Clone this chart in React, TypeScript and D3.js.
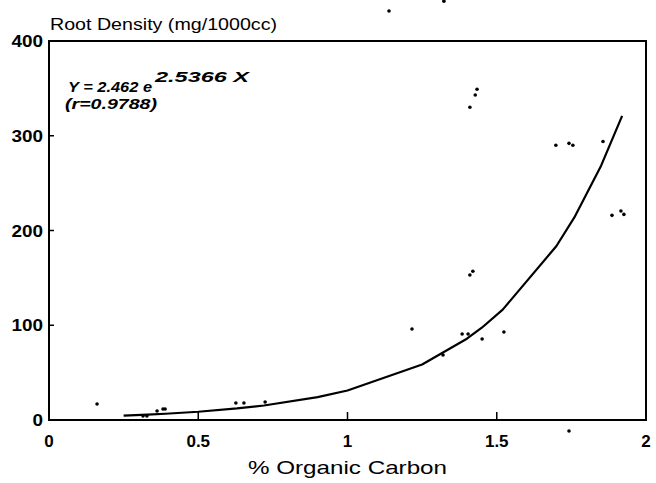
import React from "react";
import * as d3 from "d3";

const pointsX = [0.161, 0.315, 0.328, 0.362, 0.382, 0.389, 0.626, 0.653, 0.724, 1.216, 1.32, 1.384, 1.404, 1.451, 1.524, 1.41, 1.42, 1.41, 1.428, 1.434, 1.698, 1.742, 1.755, 1.856, 1.886, 1.916, 1.926, 1.139, 1.323, 1.742];
const pointsY = [16.9, 4.2, 4.2, 9.5, 11.6, 11.6, 17.9, 17.9, 19, 96, 68.6, 90.8, 90.8, 85.5, 92.9, 153, 157, 330, 343, 349, 290, 292, 290, 294, 216, 220.6, 217, 431.7, 442, -11.6];

const fitX = [0.25, 0.33, 0.39, 0.5, 0.63, 0.72, 0.9, 1.0, 1.25, 1.4, 1.45, 1.52, 1.7, 1.76, 1.85, 1.92];
const fitY = [4.6, 5.7, 6.6, 8.7, 12.2, 15.3, 24.1, 31.1, 58.6, 85.8, 97.4, 116.5, 183.6, 213.8, 268.7, 321];

const xTicks = [0, 0.5, 1, 1.5, 2];
const xTickLabels = ["0", "0.5", "1", "1.5", "2"];
const yTicks = [0, 100, 200, 300, 400];
const yTickLabels = ["0", "100", "200", "300", "400"];

const yTitle = "Root Density (mg/1000cc)";
const xTitle = "% Organic Carbon";
const eqMain = "Y = 2.462 e";
const eqSup = "2.5366 X";
const eqR = "(r=0.9788)";

export default function App() {
  const x = d3.scaleLinear().domain([0, 2]).range([49, 646]);
  const y = d3.scaleLinear().domain([0, 400]).range([420, 41]);
  const line = d3
    .line<number>()
    .x((d, i) => x(fitX[i]))
    .y((d) => y(d));
  const font = "'Liberation Sans', Arial, sans-serif";
  return (
    <svg
      width={656}
      height={483}
      style={{ position: "absolute", left: 0, top: 0, background: "#fff" }}
      fontFamily={font}
    >
      <rect x={0} y={0} width={656} height={483} fill="#fff" />
      <rect
        x={x(0)}
        y={y(400)}
        width={x(2) - x(0)}
        height={y(0) - y(400)}
        fill="none"
        stroke="#000"
        strokeWidth={2}
      />
      {yTicks.map((t, i) => (
        <g key={"y" + i}>
          {t > 0 && t < 400 && (
            <line x1={x(0)} x2={x(0) + 5} y1={y(t)} y2={y(t)} stroke="#000" strokeWidth={1.5} />
          )}
          <text
            x={43}
            y={y(t) + 6}
            fontSize={16}
            textAnchor="end"
            fontWeight={600}
            textLength={yTickLabels[i].length * 10.5}
            lengthAdjust="spacingAndGlyphs"
          >
            {yTickLabels[i]}
          </text>
        </g>
      ))}
      {xTicks.map((t, i) => (
        <g key={"x" + i}>
          {t > 0 && t < 2 && (
            <line x1={x(t)} x2={x(t)} y1={y(0)} y2={y(0) - 8} stroke="#000" strokeWidth={1.5} />
          )}
          <text x={x(t)} y={447} fontSize={17} textAnchor="middle" fontWeight={600}>
            {xTickLabels[i]}
          </text>
        </g>
      ))}
      <text x={50} y={30} fontSize={17} textLength={227} lengthAdjust="spacingAndGlyphs">
        {yTitle}
      </text>
      <text x={248} y={474} fontSize={19} textLength={199} lengthAdjust="spacingAndGlyphs">
        {xTitle}
      </text>
      <text
        x={68}
        y={92}
        fontSize={15}
        fontWeight="bold"
        fontStyle="italic"
        textLength={84}
        lengthAdjust="spacingAndGlyphs"
      >
        {eqMain}
      </text>
      <text
        x={155}
        y={82}
        fontSize={14}
        fontWeight="bold"
        fontStyle="italic"
        textLength={94}
        lengthAdjust="spacingAndGlyphs"
      >
        {eqSup}
      </text>
      <text
        x={65}
        y={109}
        fontSize={14.5}
        fontWeight="bold"
        fontStyle="italic"
        textLength={92}
        lengthAdjust="spacingAndGlyphs"
      >
        {eqR}
      </text>
      <path d={line(fitY) || ""} fill="none" stroke="#000" strokeWidth={2.2} strokeLinejoin="round" />
      {pointsX.map((px, i) => (
        <circle key={"p" + i} cx={x(px)} cy={y(pointsY[i])} r={1.8} fill="#000" />
      ))}
    </svg>
  );
}
